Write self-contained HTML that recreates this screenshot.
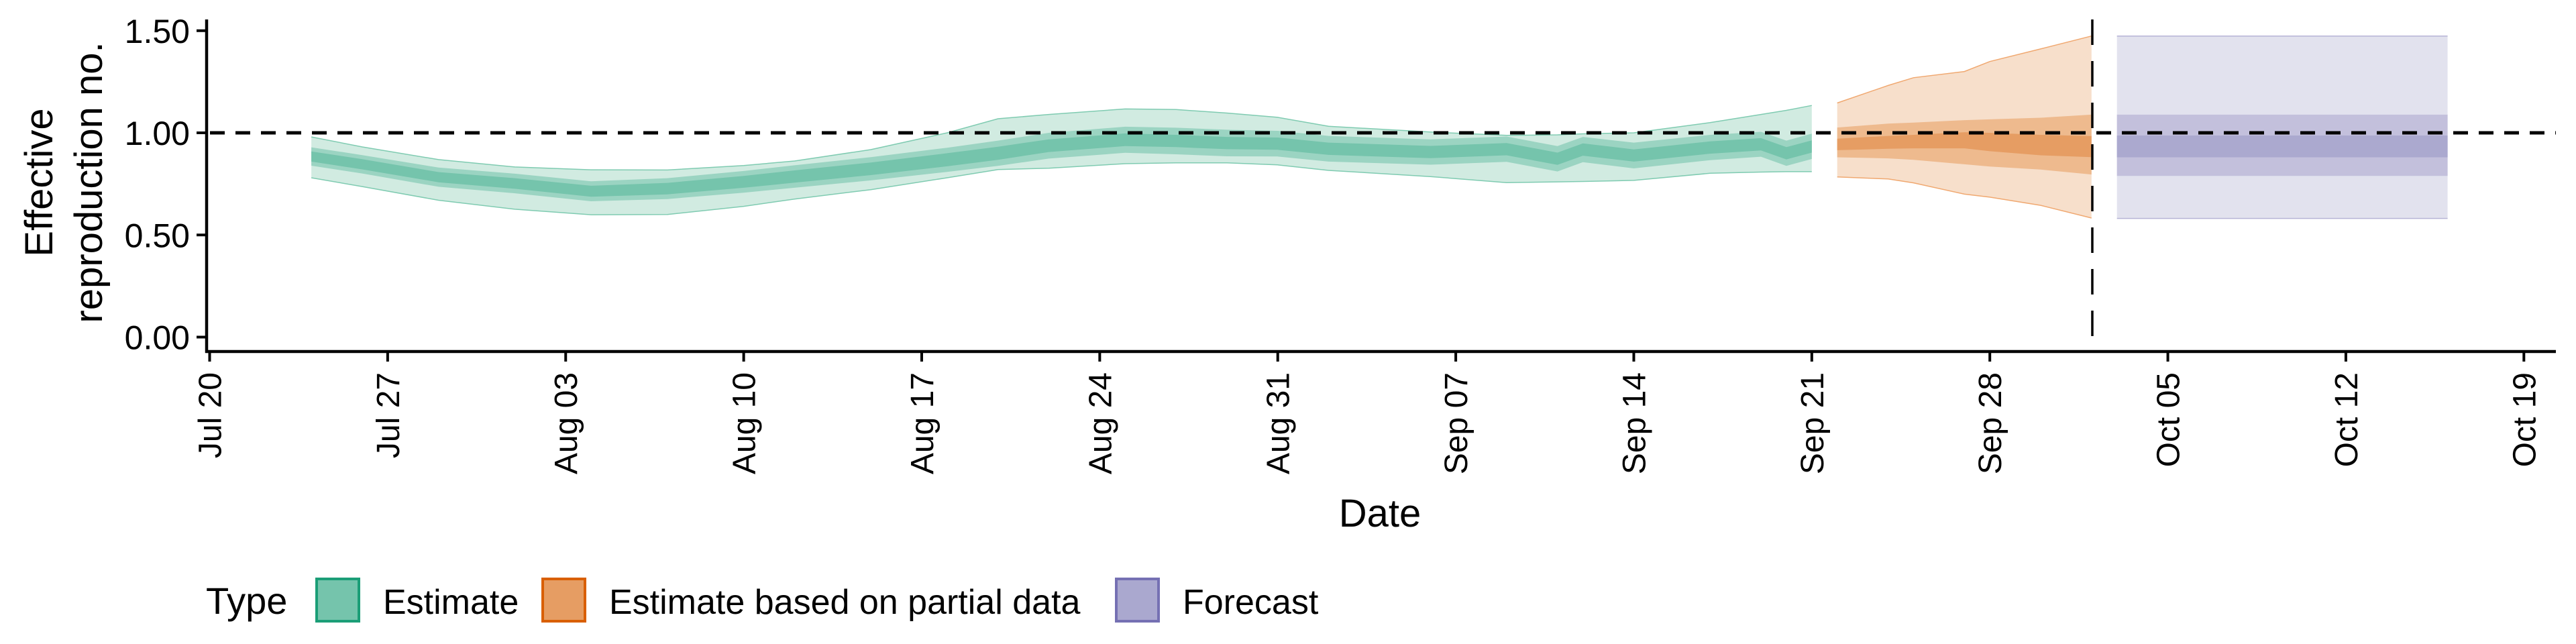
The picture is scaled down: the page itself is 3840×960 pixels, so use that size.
<!DOCTYPE html>
<html><head><meta charset="utf-8"><style>
html,body{margin:0;padding:0;background:#fff;}
svg{display:block;font-family:"Liberation Sans",Arial,sans-serif;}
</style></head><body>
<svg id="chart" width="3840" height="960" viewBox="0 0 3840 960" xmlns="http://www.w3.org/2000/svg">
<g id="bands"></g>
<g id="axes"></g>
<text font-size="58" text-anchor="middle" transform="translate(78,272) rotate(-90)">Effective</text>
<text font-size="58" text-anchor="middle" transform="translate(152,272) rotate(-90)">reproduction no.</text>
<text font-size="58" text-anchor="middle" x="2057" y="785">Date</text>
<g>
<text x="307" y="915" font-size="56">Type</text>
<rect x="472" y="863" width="63" height="63" fill="#75c4ac" stroke="#1b9e77" stroke-width="4"/>
<text x="571" y="915" font-size="52">Estimate</text>
<rect x="809" y="863" width="63" height="63" fill="#e69d63" stroke="#d95f02" stroke-width="4"/>
<text x="908" y="915" font-size="52">Estimate based on partial data</text>
<rect x="1664" y="863" width="63" height="63" fill="#aaa8cf" stroke="#7570b3" stroke-width="4"/>
<text x="1763" y="915" font-size="52">Forecast</text>
</g>
</svg>
<script>
// ---- data (days since Jul 20) ----
const greenDays = [4,6,9,12,15,18,21,23,26,29,31,33,36,38,40,42,44,48,51,53,54,56,59,61,62,63];
const greenMed  = [.884,.846,.783,.752,.714,.727,.76,.786,.824,.868,.90,.937,.966,.96,.95,.947,.922,.906,.92,.873,.918,.889,.928,.944,.90,.933];
const greenHi90 = [.98,.931,.869,.833,.819,.818,.84,.862,.918,1.0,1.069,1.09,1.117,1.114,1.097,1.076,1.032,1.004,.988,.99,.995,1.0,1.05,1.09,1.11,1.134];
const greenLo90 = [.78,.737,.67,.626,.599,.600,.64,.676,.722,.78,.82,.827,.849,.853,.853,.843,.816,.786,.756,.76,.762,.767,.802,.808,.81,.81];
const greenHi50 = [.929,.891,.830,.800,.763,.778,.813,.841,.881,.927,.962,1.0,1.03,1.025,1.015,1.01,.985,.968,.982,.935,.98,.952,.99,1.005,.962,.996];
const greenLo50 = [.839,.801,.736,.704,.665,.676,.707,.731,.767,.809,.838,.874,.902,.895,.885,.884,.859,.844,.858,.811,.856,.826,.866,.883,.838,.872];
const greenHi20 = [.909,.871,.808,.778,.741,.755,.789,.816,.855,.9,.932,.968,.997,.99,.98,.977,.952,.936,.95,.903,.948,.919,.958,.974,.93,.963];
const greenLo20 = [.859,.821,.758,.726,.687,.699,.731,.756,.793,.836,.868,.906,.935,.93,.92,.917,.892,.876,.89,.843,.888,.859,.898,.914,.87,.903];
const orangeDays = [64,66,67,69,70,72,74];
const orangeHi90 = [1.146,1.232,1.27,1.30,1.349,1.411,1.474];
const orangeLo90 = [.784,.774,.755,.70,.685,.645,.583];
const orangeHi50 = [1.026,1.045,1.05,1.062,1.066,1.074,1.089];
const orangeLo50 = [.88,.875,.868,.846,.835,.82,.796];
const orangeHi20 = [.971,.985,.99,1.003,1.0,.99,.984];
const orangeLo20 = [.915,.922,.924,.924,.91,.89,.881];
const forecastDays = [75,88];
const forecastHi90 = [1.474,1.474];
const forecastLo90 = [.581,.581];
const forecastHi50 = [1.089,1.089];
const forecastLo50 = [.789,.789];
const forecastHi20 = [.987,.987];
const forecastLo20 = [.880,.880];
const yTicks = [0,0.5,1,1.5];
const yTickLabels = ["0.00","0.50","1.00","1.50"];
const xTickDays = [0,7,14,21,28,35,42,49,56,63,70,77,84,91];
const xTickLabels = ["Jul 20","Jul 27","Aug 03","Aug 10","Aug 17","Aug 24","Aug 31","Sep 07","Sep 14","Sep 21","Sep 28","Oct 05","Oct 12","Oct 19"];
const refValue = 1.0;
const forecastStartDay = 74.03;

// ---- scales ----
const X = d => 312.5 + d * 37.91;
const Y = v => 502.5 - v * 304.5;
const NS = "http://www.w3.org/2000/svg";
const bands = document.getElementById('bands');
const axes = document.getElementById('axes');

function ribbon(days, hi, lo, fill, name) {
  let pts = days.map((d,i)=>X(d).toFixed(1)+','+Y(hi[i]).toFixed(1));
  for (let i=days.length-1;i>=0;i--) pts.push(X(days[i]).toFixed(1)+','+Y(lo[i]).toFixed(1));
  const p = document.createElementNS(NS,'polygon');
  p.setAttribute('points', pts.join(' '));
  p.setAttribute('fill', fill);
  
  
  bands.appendChild(p);
}
function edge(days, vals, stroke, name) {
  const p = document.createElementNS(NS,'polyline');
  p.setAttribute('points', days.map((d,i)=>X(d).toFixed(1)+','+Y(vals[i]).toFixed(1)).join(' '));
  p.setAttribute('fill','none'); p.setAttribute('stroke',stroke); p.setAttribute('stroke-width','1.5');
  
  
  bands.appendChild(p);
}
function series(days,h90,l90,h50,l50,h20,l20,c,edgeC,name){
  ribbon(days,h90,l90,c[0],name+'-ci90');
  ribbon(days,h50,l50,c[1],name+'-ci50');
  ribbon(days,h20,l20,c[2],name+'-ci20');
  edge(days,h90,edgeC,name+'-upper-edge');
  edge(days,l90,edgeC,name+'-lower-edge');
}
series(greenDays,greenHi90,greenLo90,greenHi50,greenLo50,greenHi20,greenLo20,['#d1ebe1','#9bd4c2','#75c4ac'],'#7fcbb1','estimate');
series(orangeDays,orangeHi90,orangeLo90,orangeHi50,orangeLo50,orangeHi20,orangeLo20,['#f7dfcb','#eeba8e','#e69d63'],'#f0a870','partial');
series(forecastDays,forecastHi90,forecastLo90,forecastHi50,forecastLo50,forecastHi20,forecastLo20,['#e2e2ee','#c3c0dc','#aba9cf'],'#b7b4d6','forecast');

function line(x1,y1,x2,y2,w,dash,name){
  const l=document.createElementNS(NS,'line');
  l.setAttribute('x1',x1);l.setAttribute('y1',y1);l.setAttribute('x2',x2);l.setAttribute('y2',y2);
  l.setAttribute('stroke','#000');l.setAttribute('stroke-width',w);
  if(dash) l.setAttribute('stroke-dasharray',dash);
  
  
  axes.appendChild(l);
}
function text(x,y,s,size,anchor,transform,name){
  const t=document.createElementNS(NS,'text');
  t.setAttribute('x',x);t.setAttribute('y',y);t.setAttribute('font-size',size);
  t.setAttribute('text-anchor',anchor);
  if(transform) t.setAttribute('transform',transform);
  t.textContent=s;
  
  
  axes.appendChild(t);
}
// reference lines
line(313, Y(refValue), 3810, Y(refValue), 5, '22 16', 'reference-line-1');
line(X(forecastStartDay), 29, X(forecastStartDay), 522, 3.5, '38 24', 'forecast-start-line');
// axes
line(308, 29, 308, 526, 4.5, null, 'y-axis-line');
line(306, 524, 3810, 524, 4.5, null, 'x-axis-line');
yTicks.forEach((v,i)=>{
  line(293, Y(v), 308, Y(v), 4, null, 'y-tick');
  text(283, Y(v)+18, yTickLabels[i], 50, 'end', null, 'y-tick-label');
});
xTickDays.forEach((d,i)=>{
  line(X(d), 524, X(d), 539, 4, null, 'x-tick');
  const x = X(d)+17, y = 555;
  text(x, y, xTickLabels[i], 48, 'end', `rotate(-90 ${x} ${y})`, 'x-tick-label');
});
</script>
</body></html>
